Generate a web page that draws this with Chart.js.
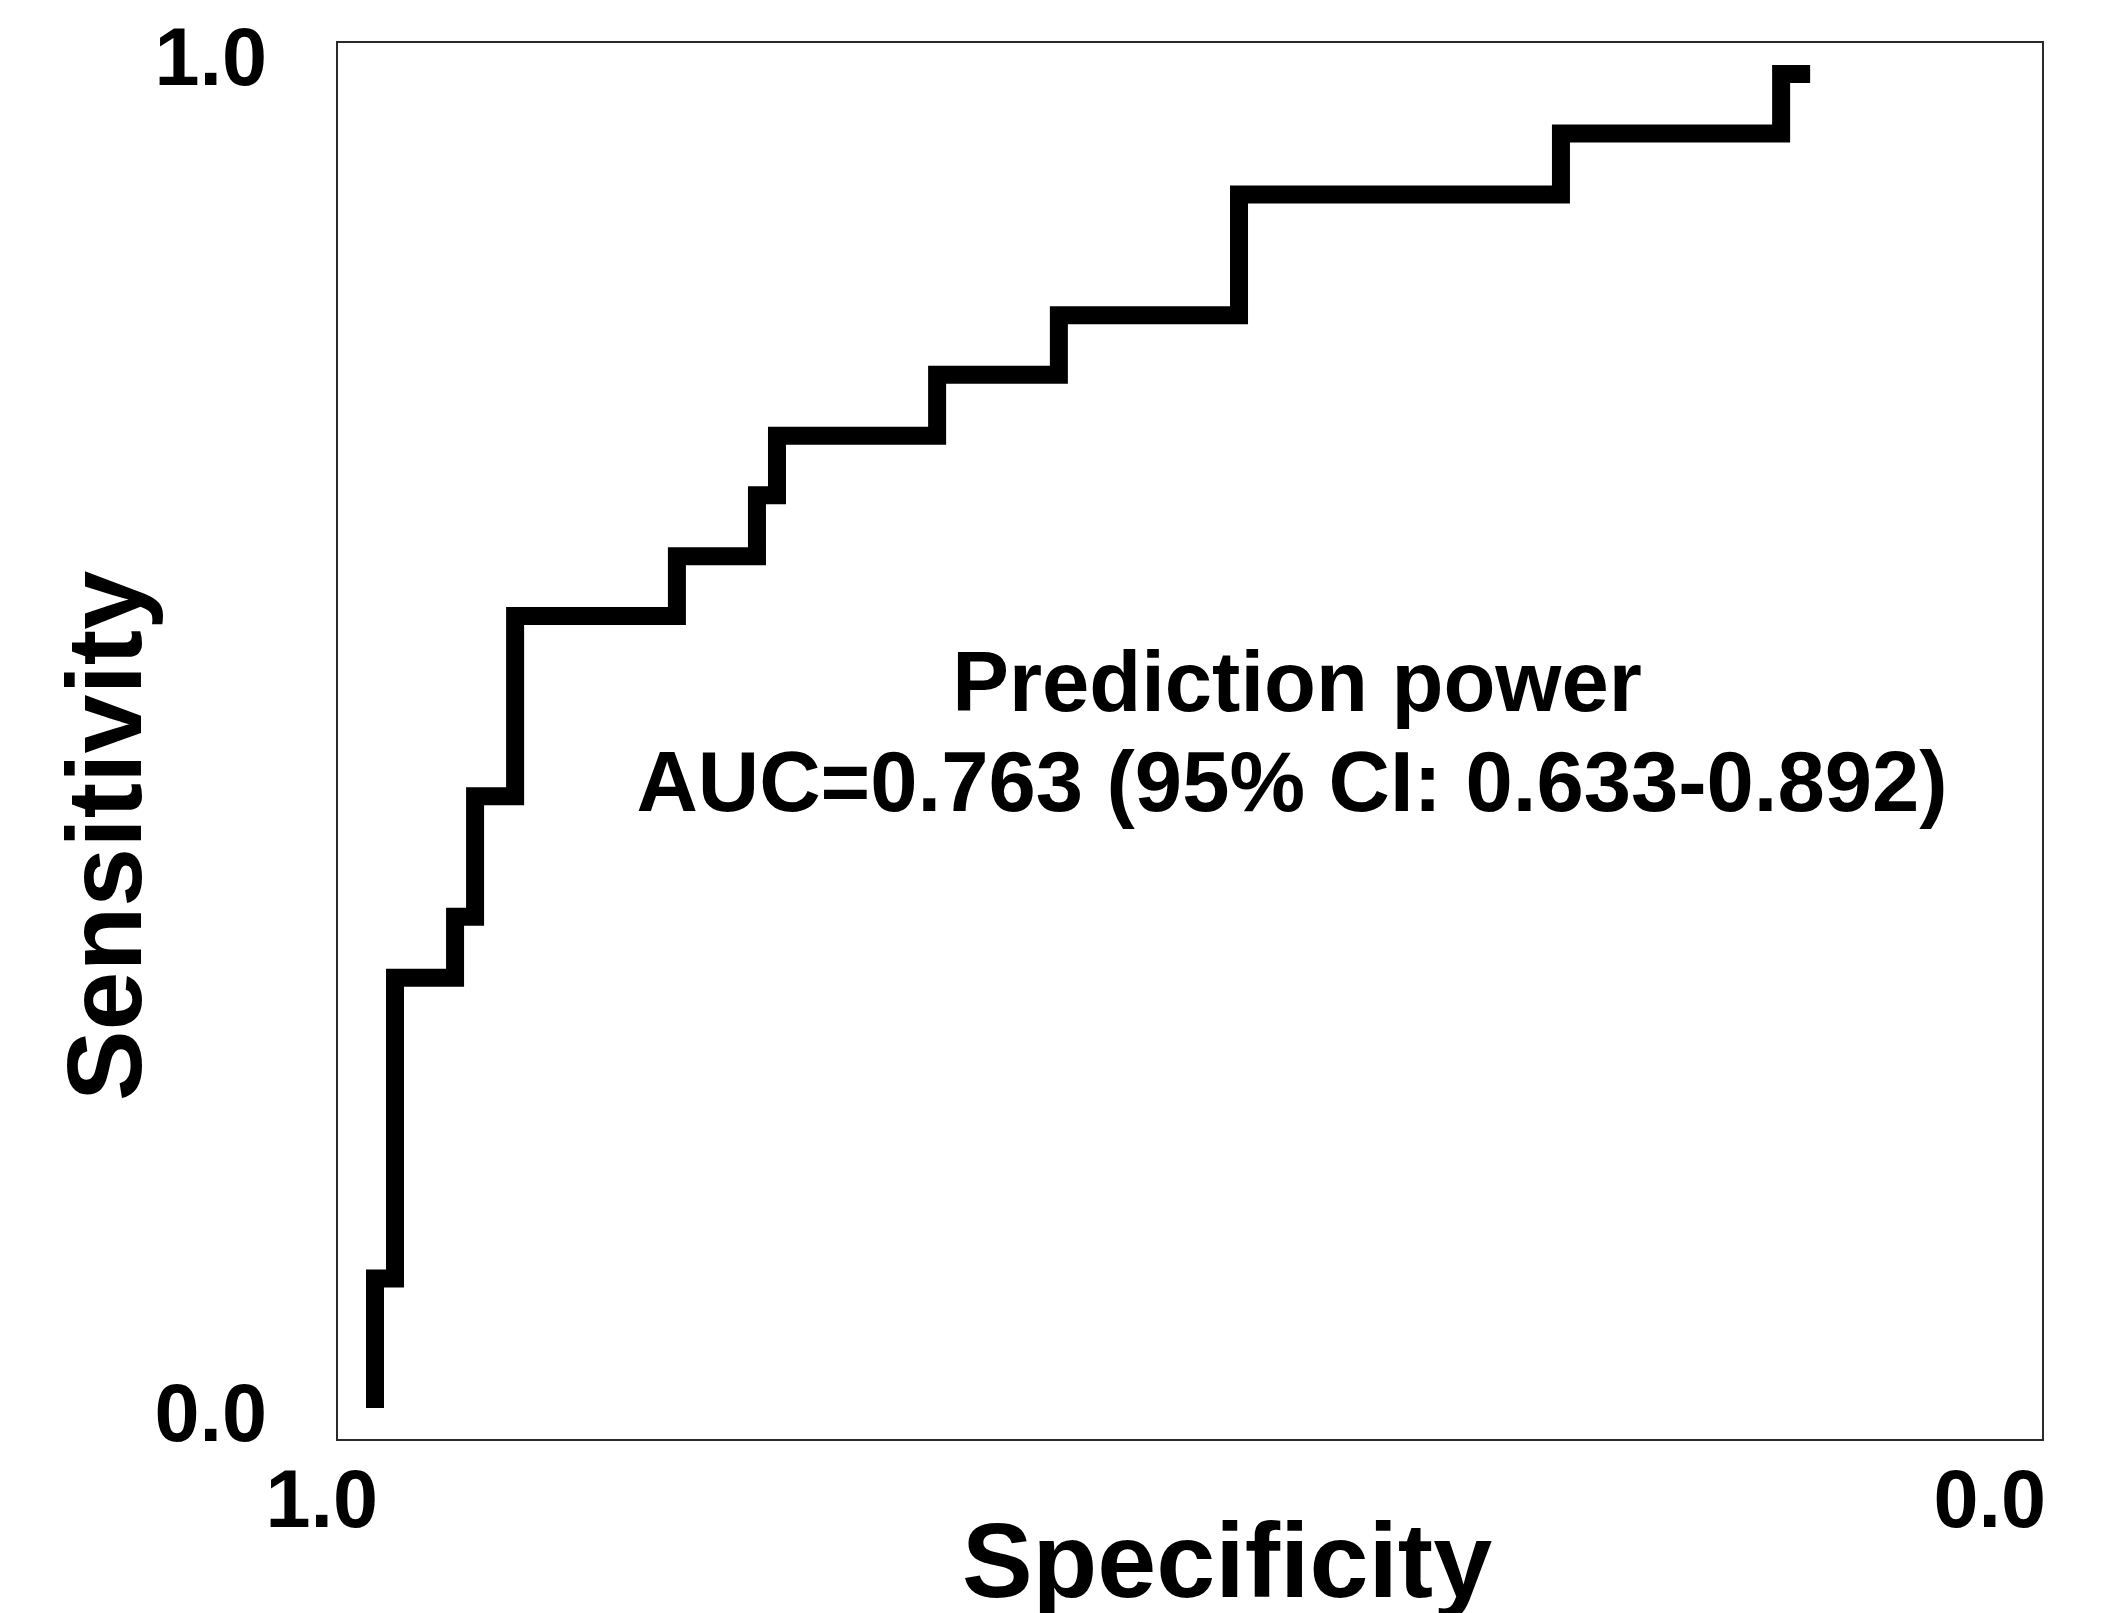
<!DOCTYPE html>
<html>
<head>
<meta charset="utf-8">
<script src="https://cdn.jsdelivr.net/npm/chart.js@4.4.1/dist/chart.umd.min.js"></script>
<style>
  html, body { margin: 0; padding: 0; background: #ffffff; overflow: hidden; }
  #wrap { width: 2102px; height: 1613px; }
</style>
</head>
<body>
<div id="wrap"><canvas id="c" width="2102" height="1613"></canvas></div>
<script>
// ROC step coordinates
const specificity = [1.000, 0.988, 0.952, 0.940, 0.916, 0.819, 0.771, 0.759, 0.663, 0.590, 0.482, 0.289, 0.157, 0.145];
const sensitivity = [0.000, 0.091, 0.318, 0.364, 0.455, 0.591, 0.636, 0.682, 0.727, 0.773, 0.818, 0.909, 0.955, 1.000];
const xTickValues = [1.0, 0.0];
const yTickValues = [0.0, 1.0];
const xTitle = 'Specificity';
const yTitle = 'Sensitivity';
const noteLines = ['Prediction power', 'AUC=0.763 (95% CI: 0.633-0.892)'];

// build the step path corners from the arrays
const rocPoints = [{ x: specificity[0], y: sensitivity[0] }];
for (let i = 1; i < specificity.length; i++) {
  rocPoints.push({ x: specificity[i - 1], y: sensitivity[i] });
  rocPoints.push({ x: specificity[i], y: sensitivity[i] });
}

const FONT = "'Liberation Sans', Arial, Helvetica, sans-serif";

const framePlugin = {
  id: 'frameAndText',
  beforeDatasetsDraw(chart) {
    const { ctx, chartArea: a } = chart;
    ctx.save();
    ctx.strokeStyle = '#2a2a2a';
    ctx.lineWidth = 2;
    ctx.strokeRect(a.left, a.top, a.right - a.left, a.bottom - a.top);
    ctx.restore();
  },
  afterDraw(chart) {
    const { ctx } = chart;
    ctx.save();
    ctx.fillStyle = '#000000';
    ctx.textBaseline = 'alphabetic';
    ctx.textAlign = 'center';
    // axis titles
    ctx.font = 'bold 106px ' + FONT;
    ctx.fillText(xTitle, 1227, 1597);
    ctx.save();
    ctx.translate(141, 836);
    ctx.rotate(-Math.PI / 2);
    ctx.fillText(yTitle, 0, 0);
    ctx.restore();
    // annotation
    ctx.font = 'bold 85px ' + FONT;
    ctx.fillText(noteLines[0], 1297, 711);
    ctx.fillText(noteLines[1], 1292, 811);
    ctx.restore();
  }
};

new Chart(document.getElementById('c'), {
  type: 'line',
  data: {
    datasets: [{
      data: rocPoints,
      borderColor: '#000000',
      borderWidth: 18,
      borderCapStyle: 'square',
      borderJoinStyle: 'miter',
      pointRadius: 0,
      tension: 0,
      fill: false,
      xAxisID: 'x',
      yAxisID: 'y'
    }]
  },
  options: {
    responsive: false,
    animation: false,
    events: [],
    layout: { padding: { top: 42, right: 59, bottom: 0, left: 0 } },
    plugins: { legend: { display: false }, tooltip: { enabled: false }, title: { display: false } },
    scales: {
      x: {
        type: 'linear',
        position: 'bottom',
        reverse: true,
        min: 0,
        max: 1.02278,
        grid: { display: false, drawTicks: false },
        border: { display: false },
        afterBuildTicks: (s) => { s.ticks = xTickValues.map(v => ({ value: v })).sort((p, q) => p.value - q.value); },
        afterFit: (s) => { s.height = 173; s.paddingLeft = 0; s.paddingRight = 0; },
        ticks: {
          align: 'end',
          padding: 16,
          labelOffset: 3,
          color: '#000000',
          font: { family: FONT, size: 81, weight: 'bold' },
          callback: (v) => Number(v).toFixed(1)
        }
      },
      y: {
        type: 'linear',
        display: false,
        min: -0.03094,
        max: 1.02415
      },
      yt: {
        type: 'linear',
        position: 'left',
        min: -0.01549,
        max: 1.01549,
        grid: { display: false, drawTicks: false },
        border: { display: false },
        afterBuildTicks: (s) => { s.ticks = yTickValues.map(v => ({ value: v })); },
        afterFit: (s) => { s.width = 337; s.paddingTop = 0; s.paddingBottom = 0; },
        ticks: {
          padding: 70,
          color: '#000000',
          font: { family: FONT, size: 81, weight: 'bold' },
          callback: (v) => Number(v).toFixed(1)
        }
      }
    }
  },
  plugins: [framePlugin]
});
</script>
</body>
</html>
